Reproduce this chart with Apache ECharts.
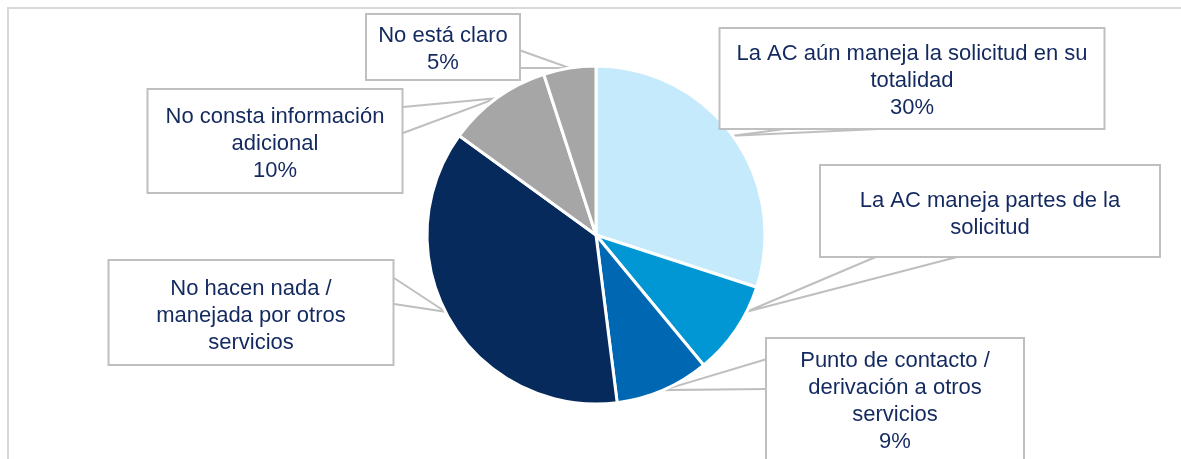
<!DOCTYPE html>
<html>
<head>
<meta charset="utf-8">
<script src="https://cdn.jsdelivr.net/npm/echarts@6/dist/echarts.min.js"></script>
<style>
  html, body { margin: 0; padding: 0; background: #fff; }
  #frame { position: absolute; left: 7px; top: 7px; width: 1200px; height: 480px;
           border-top: 2px solid #D9D9D9; border-left: 2px solid #D9D9D9; }
  #chart { position: absolute; left: 0; top: 0; width: 1181px; height: 459px; }
</style>
</head>
<body>
<div id="frame"></div>
<div id="chart"></div>
<script>
// data (clockwise from 12 o'clock)
var categories = [
  'La AC aún maneja la solicitud en su\ntotalidad',
  'La AC maneja partes de la\nsolicitud',
  'Punto de contacto /\nderivación a otros\nservicios',
  'No hacen nada /\nmanejada por otros\nservicios',
  'No consta información\nadicional',
  'No está claro'
];
var values = [30, 9, 9, 37, 10, 5];
var showPercent = [true, false, true, false, true, true];

var colors = ['#C4EAFC', '#0097D4', '#0068B2', '#062A5B', '#A6A6A6', '#A6A6A6'];

var pieCenter = [596, 235];
var pieRadius = 169;

// callout boxes: centre x, top y, width, padding top/bottom,
// the two points where the pointer wedge meets the box,
// and (optionally) the angle where the pointer touches the pie
var calloutBoxes = [
  { cx: 912, top: 29,  w: 383, pt: 11, pb: 7,  a: [785, 129], b: [878, 129] },
  { cx: 990, top: 166, w: 338, pt: 21, pb: 15, a: [878, 256], b: [961, 256], tipAngle: 117 },
  { cx: 895, top: 339, w: 256, pt: 8,  pb: 8,  a: [767, 359], b: [767, 389] },
  { cx: 251, top: 261, w: 283, pt: 14, pb: 8,  a: [394, 278], b: [394, 304], tipAngle: 243 },
  { cx: 275, top: 90,  w: 253, pt: 13, pb: 8,  a: [403, 107], b: [403, 133] },
  { cx: 443, top: 15,  w: 152, pt: 7,  pb: 3,  a: [519, 50],  b: [519, 68] }
];

var chart = echarts.init(document.getElementById('chart'));

var pieData = categories.map(function (name, i) {
  var b = calloutBoxes[i];
  return {
    name: name,
    value: values[i],
    itemStyle: { color: colors[i] },
    label: { width: b.w, padding: [b.pt, 0, b.pb, 0] }
  };
});

function edgePoint(deg) {
  var r = deg * Math.PI / 180;
  return [pieCenter[0] + pieRadius * Math.sin(r), pieCenter[1] - pieRadius * Math.cos(r)];
}

var option = {
  animation: false,
  series: [{
    type: 'pie',
    center: pieCenter,
    radius: pieRadius,
    startAngle: 90,
    clockwise: true,
    avoidLabelOverlap: false,
    itemStyle: { borderColor: '#ffffff', borderWidth: 3 },
    label: {
      show: true,
      position: 'outside',
      alignTo: 'none',
      overflow: 'none',
      fontFamily: 'Liberation Sans',
      fontSize: 22,
      lineHeight: 27,
      color: '#13295F',
      align: 'center',
      backgroundColor: '#ffffff',
      borderColor: '#BFBFBF',
      borderWidth: 2,
      formatter: function (p) {
        return showPercent[p.dataIndex] ? p.name + '\n' + p.value + '%' : p.name;
      }
    },
    labelLine: {
      show: true,
      length: 10,
      length2: 0,
      lineStyle: { color: '#BFBFBF', width: 2 }
    },
    labelLayout: function (p) {
      var b = calloutBoxes[p.dataIndex];
      var tip = b.tipAngle != null ? edgePoint(b.tipAngle)
        : (p.labelLinePoints ? p.labelLinePoints[0] : b.a);
      return {
        x: b.cx, y: b.top, align: 'center', verticalAlign: 'top',
        labelLinePoints: [b.a, tip, b.b]
      };
    },
    emphasis: { disabled: true },
    data: pieData
  }]
};

chart.setOption(option);
</script>
</body>
</html>
